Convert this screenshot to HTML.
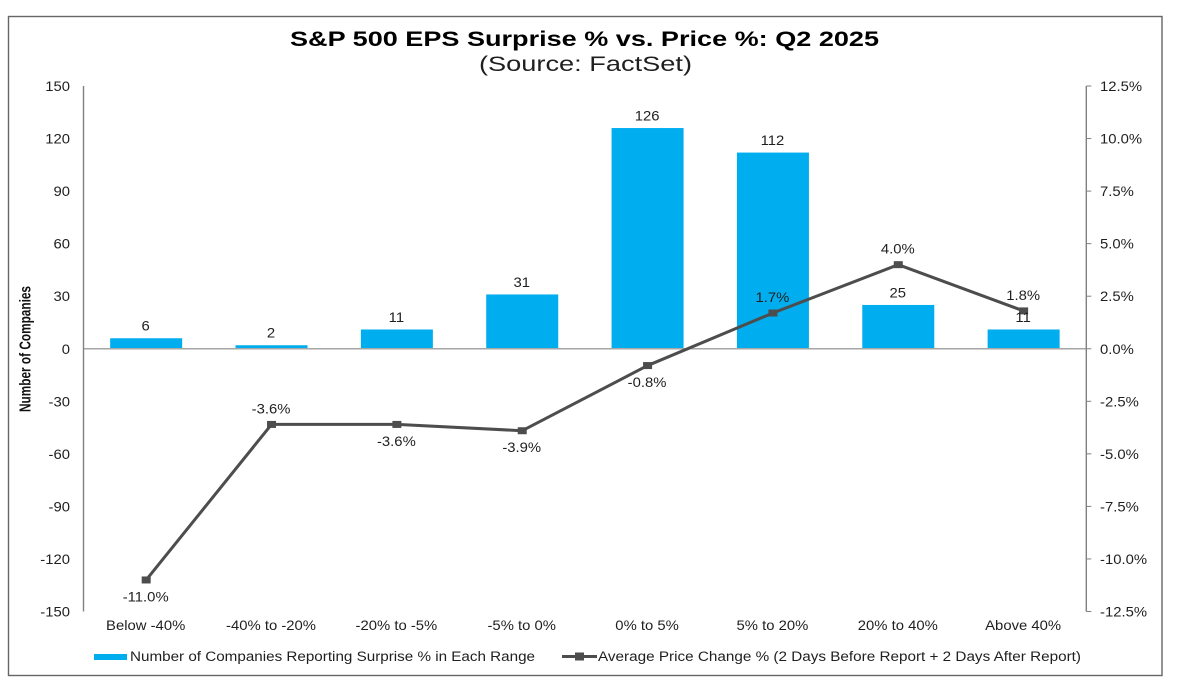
<!DOCTYPE html>
<html lang="en">
<head>
<meta charset="utf-8">
<title>S&amp;P 500 EPS Surprise % vs. Price %: Q2 2025</title>
<style>
html,body{margin:0;padding:0;background:#fff;width:1184px;height:691px;overflow:hidden}
svg{display:block;font-family:"Liberation Sans",sans-serif}
text{fill:#1f1f1f}
</style>
</head>
<body>
<svg id="chart" xmlns="http://www.w3.org/2000/svg" width="1184" height="691" viewBox="0 0 1184 691">
  <rect x="8.5" y="16.5" width="1153.5" height="659" fill="#fff" stroke="#666" stroke-width="1.4"/>
  <text x="584.5" y="46" text-anchor="middle" font-size="21" font-weight="bold" textLength="589" lengthAdjust="spacingAndGlyphs" style="fill:#000">S&amp;P 500 EPS Surprise % vs. Price %: Q2 2025</text>
  <text x="585.5" y="71" text-anchor="middle" font-size="21" textLength="213" lengthAdjust="spacingAndGlyphs">(Source: FactSet)</text>
  <text transform="translate(30.5,412) rotate(-90)" font-size="15.5" font-weight="bold" textLength="126" lengthAdjust="spacingAndGlyphs" style="fill:#111">Number of Companies</text>
  <g id="plot"></g>
  <g>
    <g>
      <rect x="94" y="654" width="33" height="6" fill="#00aeef"/>
      <text x="130" y="661" font-size="13.5" textLength="405" lengthAdjust="spacingAndGlyphs">Number of Companies Reporting Surprise % in Each Range</text>
    </g>
    <g>
      <line x1="562" y1="656.5" x2="597" y2="656.5" stroke="#4d4d4d" stroke-width="3"/>
      <rect x="575" y="652.5" width="9" height="8" fill="#4d4d4d"/>
      <text x="598" y="661" font-size="13.5" textLength="483" lengthAdjust="spacingAndGlyphs">Average Price Change % (2 Days Before Report + 2 Days After Report)</text>
    </g>
  </g>
</svg>
<script>
const categories = ['Below -40%', '-40% to -20%', '-20% to -5%', '-5% to 0%', '0% to 5%', '5% to 20%', '20% to 40%', 'Above 40%'];
const companyCounts = [6, 2, 11, 31, 126, 112, 25, 11];
const priceChanges = [-11.0, -3.6, -3.6, -3.9, -0.8, 1.7, 4.0, 1.8];
const priceLabelSides = ['below', 'above', 'below', 'below', 'below', 'above', 'above', 'above'];
const leftTicks = [150, 120, 90, 60, 30, 0, -30, -60, -90, -120, -150];
const rightTicks = [12.5, 10, 7.5, 5, 2.5, 0, -2.5, -5, -7.5, -10, -12.5];

const NS = 'http://www.w3.org/2000/svg';
const plot = document.getElementById('plot');
const L = 83.5, R = 1086.3, T = 86, B = 611.5;
const yLeft = v => T + (150 - v) / 300 * (B - T);
const yRight = v => T + (12.5 - v) / 25 * (B - T);
const xBand = i => L + (i + 0.5) * (R - L) / categories.length;
const BAR_W = 72;
const HSCALE = 1.1;

function make(tag, attrs, parent) {
  const el = document.createElementNS(NS, tag);
  for (const k in attrs) el.setAttribute(k, attrs[k]);
  (parent || plot).appendChild(el);
  return el;
}
function label(x, y, str, anchor) {
  const el = make('text', {
    transform: 'translate(' + x + ',' + y + ') scale(' + HSCALE + ',1)',
    'font-size': 13.5,
    'text-anchor': anchor
  });
  el.textContent = str;
  return el;
}

companyCounts.forEach((v, i) => {
  const top = yLeft(Math.max(v, 0)), bot = yLeft(Math.min(v, 0));
  const bar = make('rect', { x: xBand(i) - BAR_W / 2, y: top, width: BAR_W, height: bot - top, fill: '#00aeef' });
  
  
});

const zeroLine = make('line', { x1: L, x2: R, y1: yLeft(0), y2: yLeft(0), stroke: '#a6a6a6', 'stroke-width': 1.5 });



const leftAxis = make('line', { x1: L, x2: L, y1: T, y2: B, stroke: '#808080', 'stroke-width': 1.4 });



const rightAxis = make('line', { x1: R, x2: R, y1: T, y2: B, stroke: '#808080', 'stroke-width': 1.4 });



leftTicks.forEach(v => {
  const t = label(70, yLeft(v) + 5, String(v), 'end');
  
  
});

rightTicks.forEach(v => {
  const tick = make('line', { x1: R, x2: R + 5, y1: yRight(v), y2: yRight(v), stroke: '#808080', 'stroke-width': 1 });
  
  
  const t = label(1100, yRight(v) + 5, v.toFixed(1) + '%', 'start');
  
  
});

categories.forEach((c, i) => {
  const t = label(xBand(i) - 0.5, 630, c, 'middle');
  
  
});

const pricePath = make('polyline', {
  points: priceChanges.map((v, i) => xBand(i) + ',' + yRight(v)).join(' '),
  fill: 'none', stroke: '#4d4d4d', 'stroke-width': 3, 'stroke-linejoin': 'round'
});



priceChanges.forEach((v, i) => {
  const m = make('rect', { x: xBand(i) - 4.5, y: yRight(v) - 3.5, width: 9, height: 7, fill: '#4d4d4d' });
  
  
});

companyCounts.forEach((v, i) => {
  const t = label(xBand(i) - 0.5, yLeft(v) - 7.5, String(v), 'middle');
  
  
});

priceChanges.forEach((v, i) => {
  const offset = priceLabelSides[i] === 'above' ? -11 : 21.5;
  const t = label(xBand(i) - 0.5, yRight(v) + offset, v.toFixed(1) + '%', 'middle');
  
  
});
</script>
</body>
</html>
